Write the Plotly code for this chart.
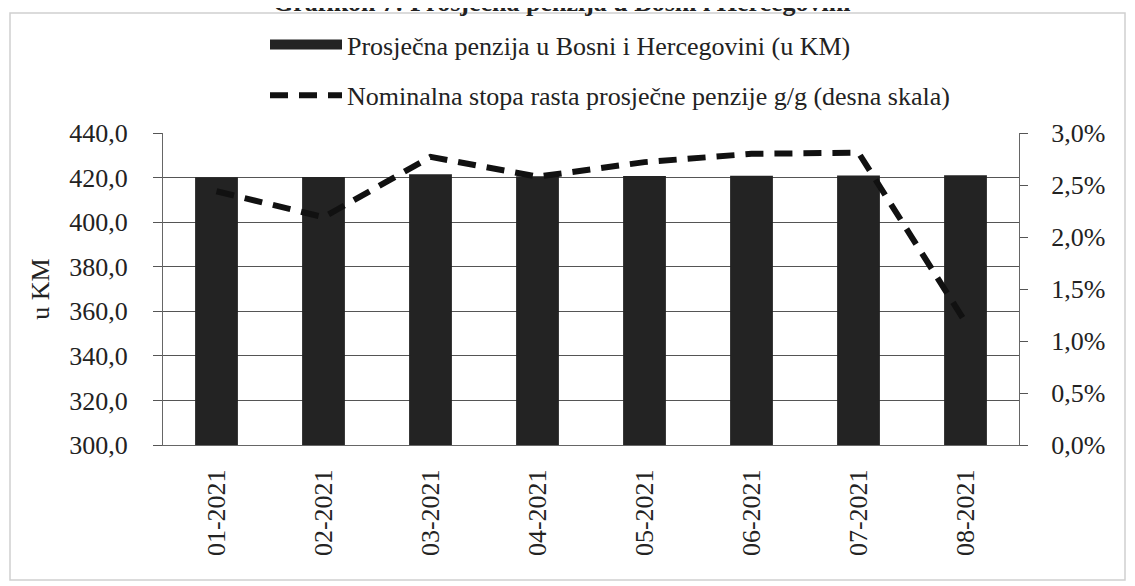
import plotly.graph_objects as go

months = ["01-2021", "02-2021", "03-2021", "04-2021", "05-2021", "06-2021", "07-2021", "08-2021"]
avg_pension = [420.2, 420.3, 421.5, 420.6, 420.7, 420.8, 420.9, 421.0]
growth_pct = [2.44, 2.19, 2.77, 2.58, 2.72, 2.80, 2.81, 1.18]

bar_name = "Prosječna penzija u Bosni i Hercegovini (u KM)"
line_name = "Nominalna stopa rasta prosječne penzije g/g (desna skala)"
title_text = "Grafikon 7: Prosječna penzija u Bosni i Hercegovini"

FONT = "Liberation Serif, Times New Roman, serif"
OFF = 8  # page body margin offset
W, H = 1135, 586
ML, MT = 163 - OFF, 133 - OFF
PW, PH = 856, 312
MR = W - ML - PW
MB = H - MT - PH

def px_x(p):
    return (p - OFF - ML) / PW

def px_y(p):
    return (MT + PH - (p - OFF)) / PH

fig = go.Figure()
fig.add_trace(go.Bar(
    x=months, y=avg_pension, name=bar_name, width=0.4,
    marker=dict(color="#232323", line=dict(width=0)),
    showlegend=False, yaxis="y",
))
# legend entry drawn as a thick line (wide black rectangle like the source)
fig.add_trace(go.Scatter(
    x=[None], y=[None], mode="lines", name=bar_name,
    line=dict(color="#232323", width=10), legendgroup="a", yaxis="y",
))
fig.add_trace(go.Scatter(
    x=months, y=growth_pct, name=line_name, mode="lines",
    line=dict(color="#111111", width=6, dash="18px,11px"),
    legendgroup="b", yaxis="y2",
))

TS = 26
fig.update_layout(
    width=W, height=H,
    margin=dict(l=ML, r=MR, t=MT, b=MB, pad=0),
    paper_bgcolor="white", plot_bgcolor="white",
    separators=", ",
    font=dict(family=FONT, size=TS, color="#222222"),
    xaxis=dict(
        type="category", tickangle=-90, showgrid=False,
        showline=True, linecolor="#666666", linewidth=1,
        ticks="", ticklabelstandoff=13,
        tickfont=dict(size=TS, family=FONT, color="#222222"),
    ),
    yaxis=dict(
        range=[300, 440], dtick=20, tickformat=".1f",
        showgrid=True, gridcolor="#555555", gridwidth=1,
        showline=True, linecolor="#666666", linewidth=1,
        ticks="outside", ticklen=9, tickcolor="#555555",
        ticklabelstandoff=20,
        title=dict(text="u KM", font=dict(size=TS, family=FONT), standoff=12),
        tickfont=dict(size=TS, family=FONT, color="#222222"),
        zeroline=False,
    ),
    yaxis2=dict(
        range=[0, 3], dtick=0.5, tickformat=".1f", ticksuffix="%",
        overlaying="y", side="right", showgrid=False,
        showline=True, linecolor="#666666", linewidth=1,
        ticks="outside", ticklen=8, tickcolor="#555555",
        ticklabelstandoff=18,
        tickfont=dict(size=TS, family=FONT, color="#222222"),
        zeroline=False,
    ),
    legend=dict(
        x=px_x(265), y=px_y(21), xanchor="left", yanchor="top",
        orientation="v", traceorder="grouped", tracegroupgap=14,
        itemwidth=72, font=dict(size=TS, family=FONT, color="#222222"),
        bgcolor="rgba(0,0,0,0)",
    ),
    shapes=[dict(
        type="rect", xref="paper", yref="paper",
        x0=px_x(10), x1=px_x(1125), y0=px_y(580), y1=px_y(13),
        line=dict(color="#d0d0d0", width=1.5), layer="below",
    )],
    annotations=[dict(
        text="<b>" + title_text + "</b>", xref="paper", yref="paper",
        x=px_x(562), y=px_y(3), xanchor="center", yanchor="middle",
        showarrow=False, font=dict(size=TS, family=FONT, color="#222222"),
    )],
)

fig.write_html("out.html")
